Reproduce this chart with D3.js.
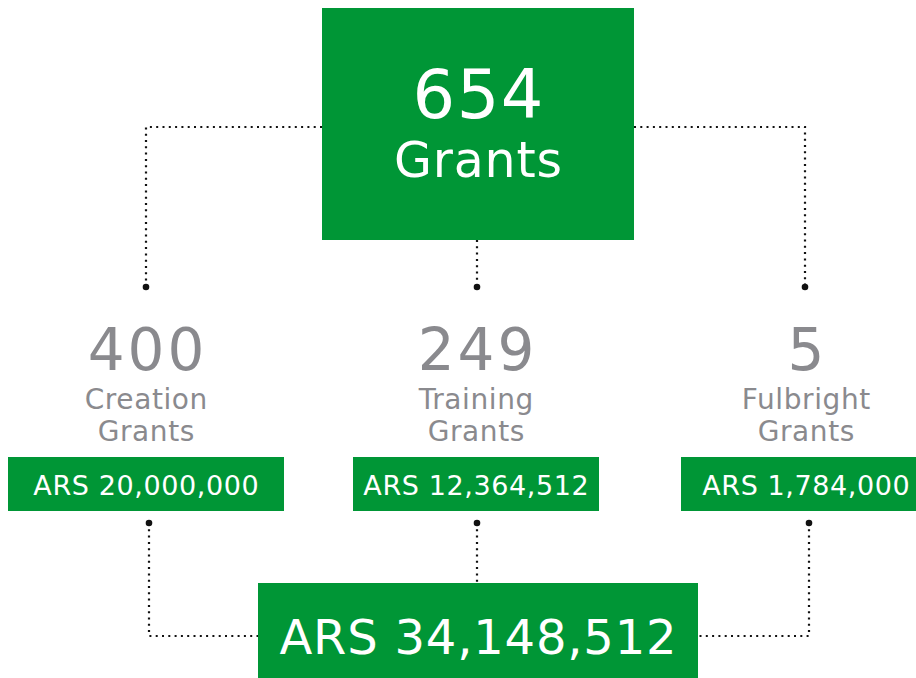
<!DOCTYPE html>
<html>
<head>
<meta charset="utf-8">
<script src="https://cdn.jsdelivr.net/npm/d3@7"></script>
<style>
  body { margin: 0; background: #fff; }
  svg { display: block; font-family: "DejaVu Sans", sans-serif; }
</style>
</head>
<body>
<div id="grants-chart"></div>
<script>
// data
var categories = ["Creation", "Training", "Fulbright"];
var grantCounts = [400, 249, 5];
var grantAmounts = [20000000, 12364512, 1784000];
var totalGrants = 654;
var totalAmount = 34148512;

var width = 916, height = 678;
var green = "#009636", grey = "#8a8a8e", dotColor = "#111";
var fmt = d3.format(",");

var svg = d3.select("#grants-chart")
  .append("svg")
    .attr("width", width)
    .attr("height", height);

// column positions
var x = d3.scalePoint()
  .domain(categories)
  .range([146, 806]);

var rows = categories.map(function(c, i) {
  return {cat: c, count: grantCounts[i], amount: grantAmounts[i]};
});

// letter-spaced centred text (shift by half the spacing to stay centred)
function spaced(sel, ls) {
  return sel.attr("letter-spacing", ls).attr("dx", ls / 2);
}

var lines = svg.append("g")
  .attr("fill", "none")
  .attr("stroke", dotColor)
  .attr("stroke-width", 2.2)
  .attr("stroke-dasharray", "2,4.3");

// top connectors
var topY = 127, dotTopY = 287;
lines.append("path").attr("d", "M322," + topY + "H" + x("Creation") + "V" + dotTopY);
lines.append("path").attr("d", "M634," + topY + "H" + (x("Fulbright") - 1) + "V" + dotTopY);
lines.append("path").attr("d", "M" + (x("Training") + 1) + ",240V" + dotTopY);

// bottom connectors
var dotBotY = 523, botY = 636;
lines.append("path").attr("d", "M" + (x("Creation") + 3) + "," + dotBotY + "V" + botY + "H258");
lines.append("path").attr("d", "M" + (x("Fulbright") + 3) + "," + dotBotY + "V" + botY + "H698");
lines.append("path").attr("d", "M" + (x("Training") + 1) + "," + dotBotY + "V583");

// end dots
svg.selectAll(".dot-top")
  .data(rows)
  .enter().append("circle")
    .attr("cx", function(d, i) { return x(d.cat) + (i == 1 ? 1 : i == 2 ? -1 : 0); })
    .attr("cy", dotTopY)
    .attr("r", 3.3)
    .attr("fill", dotColor);

svg.selectAll(".dot-bot")
  .data(rows)
  .enter().append("circle")
    .attr("cx", function(d, i) { return x(d.cat) + (i == 1 ? 1 : 3); })
    .attr("cy", dotBotY)
    .attr("r", 3.3)
    .attr("fill", dotColor);

// top box
svg.append("rect")
  .attr("x", 322).attr("y", 8)
  .attr("width", 312).attr("height", 232)
  .attr("fill", green);
svg.append("text")
  .attr("x", 478).attr("y", 118)
  .attr("text-anchor", "middle")
  .attr("fill", "#fff")
  .attr("font-size", 67)
  .call(spaced, 1.5)
  .text(totalGrants);
svg.append("text")
  .attr("x", 478).attr("y", 177)
  .attr("text-anchor", "middle")
  .attr("fill", "#fff")
  .attr("font-size", 49)
  .call(spaced, 0.8)
  .text("Grants");

// category columns
var col = svg.selectAll(".col")
  .data(rows)
  .enter().append("g")
    .attr("transform", function(d) { return "translate(" + x(d.cat) + ",0)"; });

col.append("text")
  .attr("y", 370)
  .attr("text-anchor", "middle")
  .attr("fill", grey)
  .attr("font-size", 58)
  .call(spaced, 3)
  .text(function(d) { return d.count; });
col.append("text")
  .attr("y", 409)
  .attr("text-anchor", "middle")
  .attr("fill", grey)
  .attr("font-size", 28)
  .call(spaced, 0.6)
  .text(function(d) { return d.cat; });
col.append("text")
  .attr("y", 441)
  .attr("text-anchor", "middle")
  .attr("fill", grey)
  .attr("font-size", 28)
  .call(spaced, 0.6)
  .text("Grants");

var boxW = [276, 246, 250];
col.append("rect")
  .attr("x", function(d, i) { return -boxW[i] / 2; })
  .attr("y", 457)
  .attr("width", function(d, i) { return boxW[i]; })
  .attr("height", 54)
  .attr("fill", green);
col.append("text")
  .attr("y", 495)
  .attr("text-anchor", "middle")
  .attr("fill", "#fff")
  .attr("font-size", 27)
  .call(spaced, 0.6)
  .text(function(d) { return "ARS " + fmt(d.amount); });

// total box
svg.append("rect")
  .attr("x", 258).attr("y", 583)
  .attr("width", 440).attr("height", 100)
  .attr("fill", green);
svg.append("text")
  .attr("x", 478).attr("y", 654)
  .attr("text-anchor", "middle")
  .attr("fill", "#fff")
  .attr("font-size", 48)
  .call(spaced, 0.8)
  .text("ARS " + fmt(totalAmount));
</script>
</body>
</html>
